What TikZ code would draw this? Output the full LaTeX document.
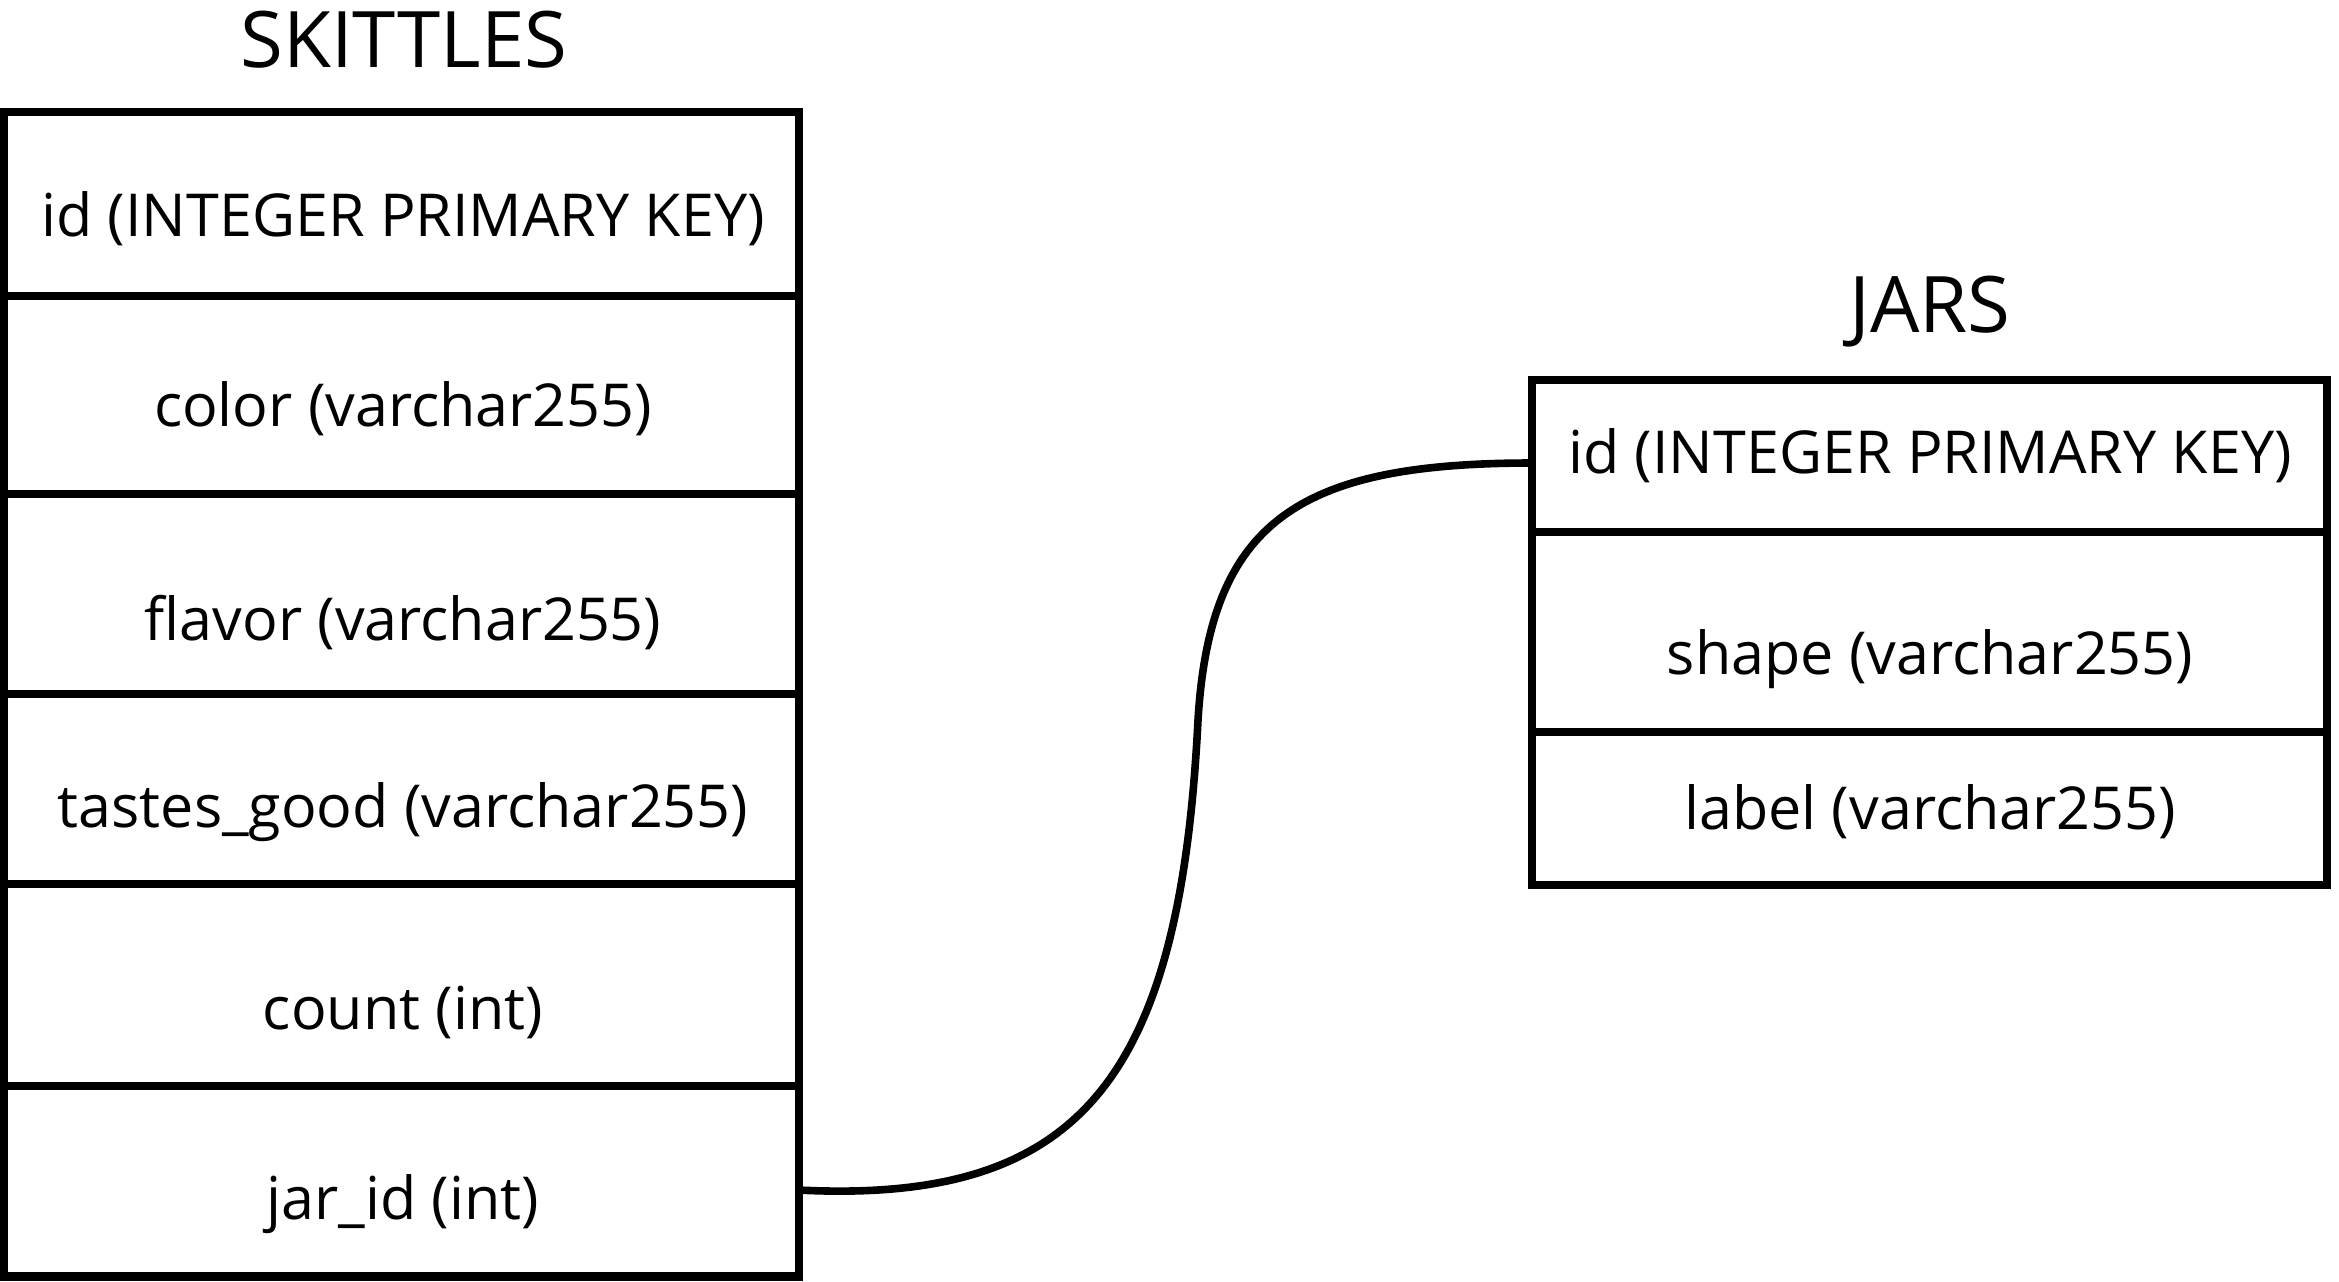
\documentclass[tikz,border=0pt]{standalone}
\usepackage{fontspec}
\setmainfont{Open Sans}
\begin{document}
\begin{tikzpicture}[x=0.5pt,y=-0.5pt,
  rowbox/.style={draw=black,line width=4.1pt,rectangle,inner sep=0pt,outer sep=0pt},
  field/.style={anchor=base,inner sep=0pt,font=\fontsize{29.6}{36}\selectfont},
  title/.style={anchor=base,inner sep=0pt,font=\fontsize{39}{46}\selectfont},
  link/.style={draw=black,line width=3.8pt}]
\useasboundingbox (0,0) rectangle (2339,1281);
% SKITTLES table rows
\node[rowbox,minimum width=397.5pt,minimum height=92pt]    (s1) at (401.5,204) {};
\node[rowbox,minimum width=397.5pt,minimum height=99pt]    (s2) at (401.5,395) {};
\node[rowbox,minimum width=397.5pt,minimum height=100pt]   (s3) at (401.5,594) {};
\node[rowbox,minimum width=397.5pt,minimum height=95pt]    (s4) at (401.5,789) {};
\node[rowbox,minimum width=397.5pt,minimum height=101pt]   (s5) at (401.5,985) {};
\node[rowbox,minimum width=397.5pt,minimum height=95.25pt] (s6) at (401.5,1181.25) {};
\node[title] (st) at (404,67) {SKITTLES};
\node[field] (f1) at (403,236) {id (INTEGER PRIMARY KEY)};
\node[field] (f2) at (403,426) {color (varchar255)};
\node[field] (f3) at (403,640) {flavor (varchar255)};
\node[field] (f4) at (403,827) {tastes\_good (varchar255)};
\node[field] (f5) at (403,1029) {count (int)};
\node[field] (f6) at (403,1219) {jar\_id (int)};
% JARS table rows
\node[rowbox,minimum width=397.5pt,minimum height=76pt]   (j1) at (1929.5,456) {};
\node[rowbox,minimum width=397.5pt,minimum height=100pt]  (j2) at (1929.5,632) {};
\node[rowbox,minimum width=397.5pt,minimum height=76.5pt] (j3) at (1929.5,808.5) {};
\node[title] (jt) at (1930,332) {JARS};
\node[field] (g1) at (1930,473) {id (INTEGER PRIMARY KEY)};
\node[field] (g2) at (1930,674) {shape (varchar255)};
\node[field] (g3) at (1930,829) {label (varchar255)};
% connector
\coordinate (mid) at (1198,720);
\draw[link] ([yshift=-4.4pt]s6.east) .. controls (1080,1204) and (1180,1080) .. (mid)
  .. controls (1210,520) and (1300,463) .. ([yshift=-3.5pt]j1.west);
\end{tikzpicture}
\end{document}
